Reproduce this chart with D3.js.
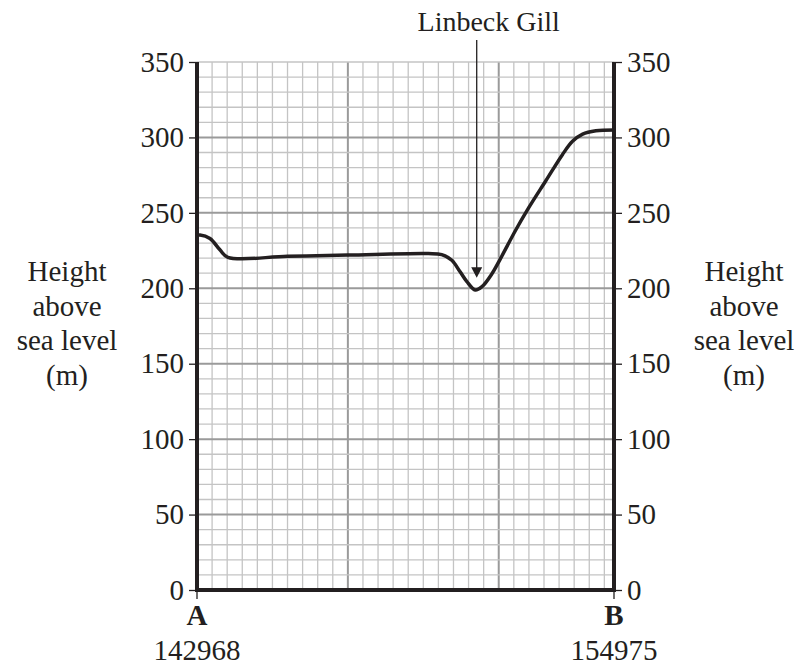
<!DOCTYPE html>
<html>
<head>
<meta charset="utf-8">
<script src="https://cdn.jsdelivr.net/npm/d3@7"></script>
<style>
  body { margin: 0; background: #fff; }
  text { font-family: "Liberation Serif", "Times New Roman", serif; fill: #231f20; }
</style>
</head>
<body>
<div id="chart"></div>
<script>
// profile data: distance along section (grid units) and height (m)
var distance = [0, 2, 8.6, 15.2, 20.5, 60, 100, 153.3, 162.2, 168.9, 174.4, 178.9, 184.4, 188.9, 195.6, 200, 211.1, 220, 231.1, 242.2, 248.9, 255.6, 264.4, 276.4];
var height_m = [235, 235.3, 233, 225.5, 220.5, 221.2, 222, 223, 222.3, 218.6, 210.9, 204.4, 198.9, 201.1, 209.8, 217.5, 238.3, 253.6, 271.1, 288.6, 297.4, 302.2, 304.4, 305];
var yTicks = [0, 50, 100, 150, 200, 250, 300, 350];
var endLetters = ["A", "B"];
var endRefs = ["142968", "154975"];
var axisTitle = ["Height", "above", "sea level", "(m)"];
var gillLabel = "Linbeck Gill";
var gillAt = 185.4;

// set the dimensions and margins of the graph
var margin = {top: 62, right: 190, bottom: 75, left: 197},
    width = 804 - margin.left - margin.right,
    height = 665 - margin.top - margin.bottom;

var svg = d3.select("#chart")
  .append("svg")
    .attr("width", 804)
    .attr("height", 665)
  .append("g")
    .attr("transform", "translate(" + margin.left + "," + margin.top + ")");

var x = d3.scaleLinear().domain([0, 276.4]).range([0, width]);
var y = d3.scaleLinear().domain([0, 350]).range([height, 0]);

// grid: minor every 10, major every 50 m / 100 units
var gx = d3.range(0, 277, 10);
var gy = d3.range(0, 351, 10);
svg.append("g").selectAll("line").data(gx).enter().append("line")
  .attr("x1", d => x(d)).attr("x2", d => x(d))
  .attr("y1", 0).attr("y2", height)
  .attr("stroke", d => d % 100 == 0 ? "#9a9a9a" : "#c4c4c4")
  .attr("stroke-width", d => d % 100 == 0 ? 2 : 1.3);
svg.append("g").selectAll("line").data(gy).enter().append("line")
  .attr("x1", 0).attr("x2", width)
  .attr("y1", d => y(d)).attr("y2", d => y(d))
  .attr("stroke", d => (d % 50 == 0 && d != 350) ? "#9a9a9a" : "#c4c4c4")
  .attr("stroke-width", d => (d % 50 == 0 && d != 350) ? 2 : 1.3);

// axes
var left = svg.append("g")
  .call(d3.axisLeft(y).tickValues(yTicks).tickSize(8).tickPadding(5));
var right = svg.append("g")
  .attr("transform", "translate(" + width + ",0)")
  .call(d3.axisRight(y).tickValues(yTicks).tickSize(8).tickPadding(5));
[left, right].forEach(function(a) {
  a.select(".domain").remove();
  a.selectAll(".tick line").attr("stroke", "#231f20").attr("stroke-width", 1.3);
  a.selectAll(".tick text").style("font-size", "29px").style("font-family", "Liberation Serif").attr("fill", "#231f20");
});

// thick frame (left, bottom, right)
svg.append("path")
  .attr("d", "M" + x(0) + "," + y(350) + "V" + y(0) + "H" + x(276.4) + "V" + y(350))
  .attr("fill", "none").attr("stroke", "#231f20").attr("stroke-width", 4);

// end markers A / B
var ends = [0, 276.4];
ends.forEach(function(d, i) {
  svg.append("line").attr("x1", x(d)).attr("x2", x(d))
    .attr("y1", height).attr("y2", height + 9)
    .attr("stroke", "#231f20").attr("stroke-width", 1.3);
  svg.append("text").attr("x", x(d)).attr("y", height + 35)
    .attr("text-anchor", "middle").style("font-size", "29px").style("font-weight", "bold")
    .text(endLetters[i]);
  svg.append("text").attr("x", x(d)).attr("y", height + 70)
    .attr("text-anchor", "middle").style("font-size", "29px")
    .text(endRefs[i]);
});

// axis titles
[-130, width + 130].forEach(function(cx) {
  svg.append("text").attr("text-anchor", "middle").style("font-size", "29px")
    .selectAll("tspan").data(axisTitle).enter().append("tspan")
      .attr("x", cx).attr("y", (d, i) => 219 + i * 34.5)
      .text(d => d);
});

// profile line
var pts = distance.map((d, i) => [d, height_m[i]]);
svg.append("path")
  .datum(pts)
  .attr("fill", "none")
  .attr("stroke", "#231f20")
  .attr("stroke-width", 3.5)
  .attr("stroke-linejoin", "round")
  .attr("d", d3.line().x(d => x(d[0])).y(d => y(d[1])).curve(d3.curveCatmullRom.alpha(0.5)));

// Linbeck Gill annotation
var ax = x(gillAt);
svg.append("line").attr("x1", ax).attr("x2", ax)
  .attr("y1", -22).attr("y2", y(213))
  .attr("stroke", "#231f20").attr("stroke-width", 1.3);
svg.append("path")
  .attr("d", "M" + (ax - 5.5) + "," + y(214) + "L" + (ax + 5.5) + "," + y(214) + "L" + ax + "," + y(207) + "Z")
  .attr("fill", "#231f20");
svg.append("text").attr("x", ax + 12).attr("y", -31)
  .attr("text-anchor", "middle").style("font-size", "28px")
  .text(gillLabel);
</script>
</body>
</html>
